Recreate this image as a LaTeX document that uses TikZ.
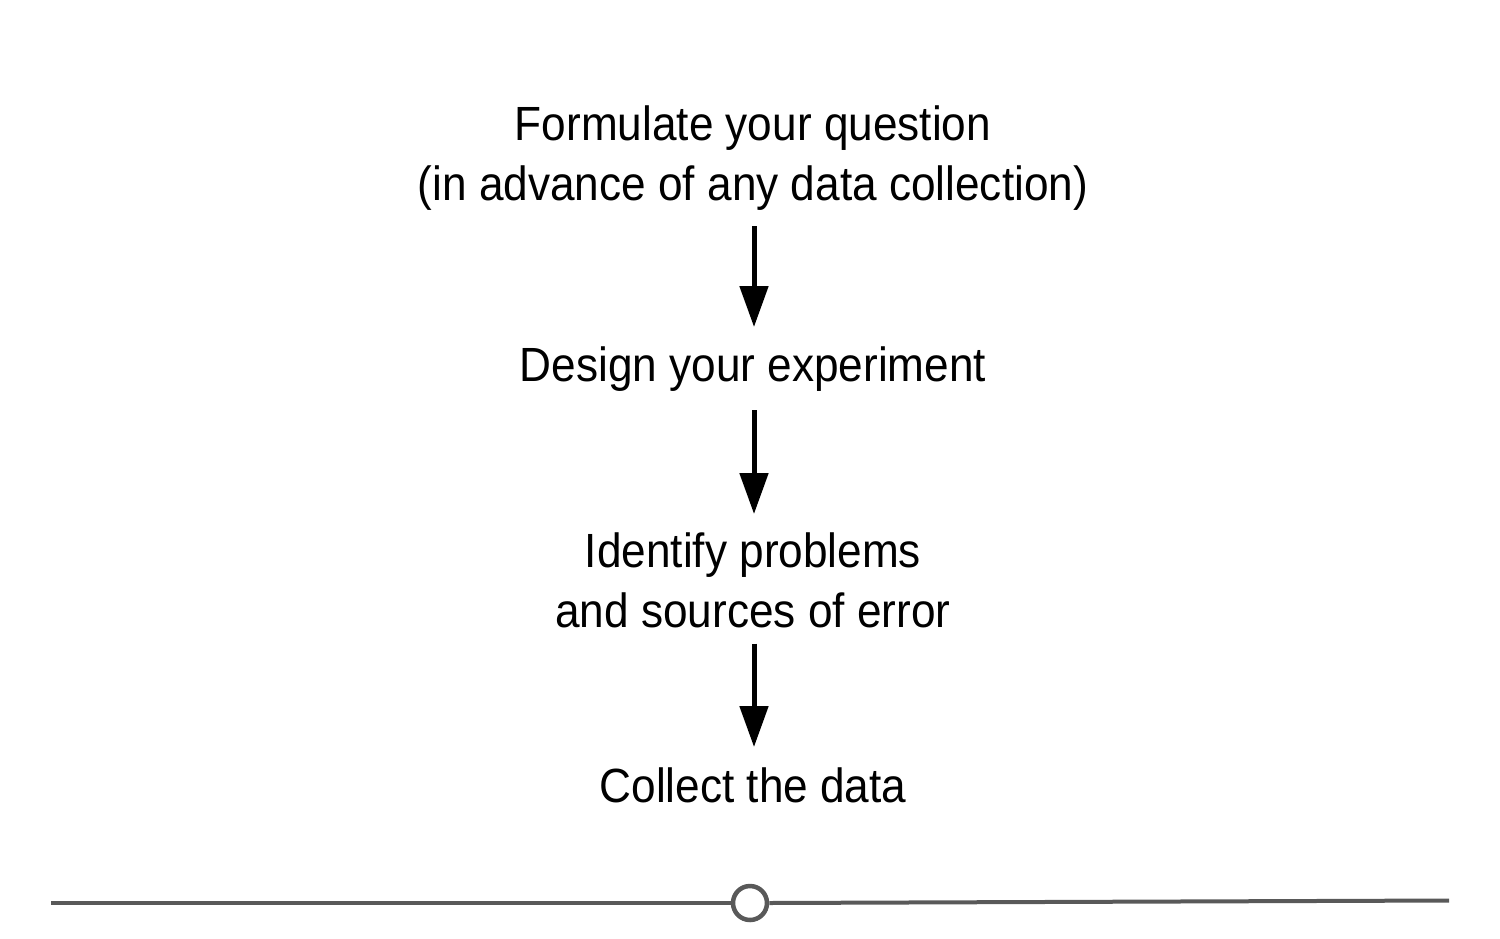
\documentclass[tikz,border=0pt]{standalone}
\usepackage{fontspec}
\setmainfont[FakeStretch=0.92]{Liberation Sans}
\usetikzlibrary{arrows.meta}
\definecolor{linegray}{HTML}{595959}
\tikzset{
  label text/.style={font=\fontsize{48}{60}\selectfont, align=center, inner sep=0pt, text=black},
  flowarrow/.style={line width=5pt, -{Triangle[length=41pt,width=28pt]}},
  timeline/.style={line width=4pt, draw=linegray},
  knob/.style={circle, draw=linegray, line width=4.5pt, minimum size=34pt, inner sep=0pt, fill=white}
}
\begin{document}
\begin{tikzpicture}[x=1pt,y=-1pt]
\useasboundingbox (0,0) rectangle (1500,938);
\node[label text, anchor=base] (q) at (753,200) {Formulate your question\\(in advance of any data collection)};
\node[label text, anchor=base] (d) at (753,381) {Design your experiment};
\node[label text, anchor=base] (p) at (753,627) {Identify problems\\and sources of error};
\node[label text, anchor=base] (c) at (753,802) {Collect the data};
\draw[flowarrow] ([yshift=-16pt]q.south -| 754,0) -- ([yshift=19pt]d.north -| 754,0);
\draw[flowarrow] ([yshift=-19pt]d.south -| 754,0) -- ([yshift=18pt]p.north -| 754,0);
\draw[flowarrow] ([yshift=-16pt]p.south -| 754,0) -- ([yshift=20pt]c.north -| 754,0);
\node[knob] (k) at (750,903) {};
\coordinate (L) at (51,903);
\coordinate (R) at (1449,900.5);
\draw[timeline] (L) -- (k.west);
\draw[timeline] (k.east) -- (R);
\end{tikzpicture}
\end{document}
